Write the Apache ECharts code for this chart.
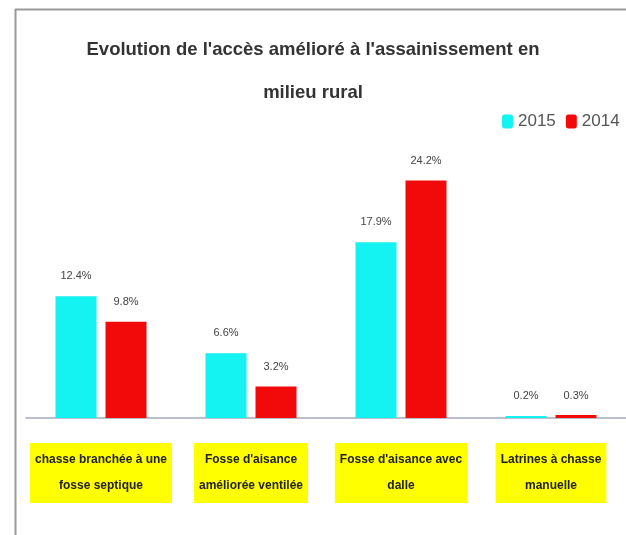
<!DOCTYPE html>
<html>
<head>
<meta charset="utf-8">
<script src="https://cdn.jsdelivr.net/npm/echarts@6/dist/echarts.min.js"></script>
<style>html,body{margin:0;padding:0;background:#fff}#c{width:626px;height:535px}</style>
</head>
<body>
<div id="c"></div>
<script>
var categories = ['chasse branchée à une\nfosse septique', "Fosse d'aisance\naméliorée ventilée", "Fosse d'aisance avec\ndalle", 'Latrines à chasse\nmanuelle'];
var values2015 = [12.4, 6.6, 17.9, 0.2];
var values2014 = [9.8, 3.2, 24.2, 0.3];
var seriesNames = ['2015', '2014'];

var chart = echarts.init(document.getElementById('c'), null, {renderer: 'canvas'});
var font = "'Liberation Sans', Arial, sans-serif";
function lbl(v) { return v.toFixed(1) + '%'; }
chart.setOption({
  backgroundColor: '#fff',
  animation: false,
  title: {
    text: "Evolution de l'accès amélioré à l'assainissement en\nmilieu rural",
    left: 'center',
    top: 23,
    padding: [5, 5, 5, 33],
    textStyle: {fontFamily: font, fontSize: 18.5, fontWeight: 'bold', color: '#333', lineHeight: 43}
  },
  legend: {
    data: seriesNames,
    orient: 'horizontal',
    left: 497,
    top: 108,
    width: 300,
    itemWidth: 11,
    itemHeight: 14,
    itemGap: 10,
    icon: 'roundRect',
    textStyle: {fontFamily: font, fontSize: 17, color: '#555'}
  },
  grid: {left: 26, right: 0, top: 153, bottom: 117},
  xAxis: {
    type: 'category',
    data: categories,
    axisLine: {lineStyle: {color: '#a4aabb', width: 1.5}},
    axisTick: {show: false},
    axisLabel: {
      interval: 0,
      margin: 25,
      fontFamily: font,
      fontSize: 12,
      fontWeight: 'bold',
      color: '#222',
      lineHeight: 26,
      backgroundColor: '#ffff00',
      padding: [4, 5]
    }
  },
  yAxis: {type: 'value', min: 0, max: 27, show: false, splitLine: {show: false}},
  series: [
    {
      name: seriesNames[0], type: 'bar', data: values2015, barWidth: 41, barGap: '22%',
      itemStyle: {color: '#14f2f2'},
      label: {show: true, position: 'top', distance: 15, formatter: function(p){return lbl(p.value);}, fontFamily: font, fontSize: 11, color: '#444'}
    },
    {
      name: seriesNames[1], type: 'bar', data: values2014, barWidth: 41,
      itemStyle: {color: '#f20a0a'},
      label: {show: true, position: 'top', distance: 14, formatter: function(p){return lbl(p.value);}, fontFamily: font, fontSize: 11, color: '#444'}
    }
  ],
  graphic: [
    {type: 'line', shape: {x1: 15.5, y1: 9, x2: 15.5, y2: 535}, style: {stroke: '#9a9a9a', lineWidth: 2}},
    {type: 'line', shape: {x1: 15, y1: 9.5, x2: 626, y2: 9.5}, style: {stroke: '#9a9a9a', lineWidth: 2}}
  ]
});
</script>
</body>
</html>
